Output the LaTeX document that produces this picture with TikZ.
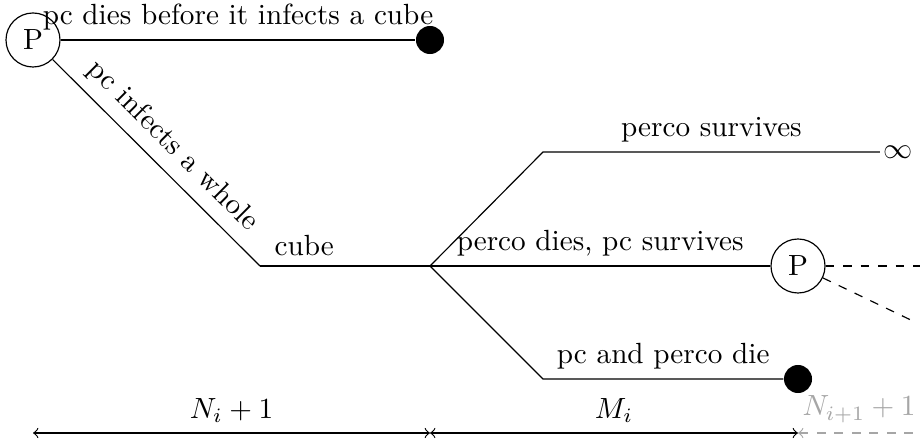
\documentclass[tikz,border=0pt]{standalone}
\usetikzlibrary{positioning}
\begin{document}
\begin{tikzpicture}[x=0.3425pt,y=-0.3425pt,
  pnode/.style={draw,circle,minimum size=18.5pt,inner sep=0pt},
  dot/.style={circle,fill=black,minimum size=9.6pt,inner sep=0pt},
  lbl/.style={above},
  fade/.style={gray!70}]
\useasboundingbox (0,0) rectangle (920,445);
% nodes
\node[pnode] (P1) at (33,40) {P};
\node[dot] (D1) at (430,40) {};
\coordinate (C1) at (260,266);
\coordinate (B) at (430,266);
\coordinate (U1) at (543,152);
\node[inner sep=1pt] (inf) at (898,152) {$\infty$};
\node[pnode] (P2) at (798,266) {P};
\coordinate (L1) at (543,379);
\node[dot] (D2) at (798,379) {};
\coordinate (E1) at (920,266);
\coordinate (E2) at (915,322);
% edges
\draw (P1) -- node[lbl] {pc dies before it infects a cube} (D1);
\draw (P1) -- node[above,sloped,pos=0.5] {pc infects a whole} (C1);
\draw (C1) -- node[lbl,pos=0.26] {cube} (B);
\draw (B) -- (U1) -- node[lbl] {perco survives} (inf);
\draw (B) -- node[lbl] {perco dies, pc survives} (P2);
\draw (B) -- (L1) -- node[lbl] {pc and perco die} (D2);
\draw[dashed] (P2) -- (E1);
\draw[dashed] (P2) -- (E2);
% bottom measures
\coordinate (m0) at (33,433);
\coordinate (m1) at (430,433);
\coordinate (m2) at (798,433);
\coordinate (m3) at (920,433);
\draw[<->] (m0) -- node[lbl] {$N_i+1$} (m1);
\draw[<->] (m1) -- node[lbl] {$M_i$} (m2);
\draw[<-,dashed,fade] (m2) -- node[lbl] {$N_{i+1}+1$} (m3);
\end{tikzpicture}
\end{document}
